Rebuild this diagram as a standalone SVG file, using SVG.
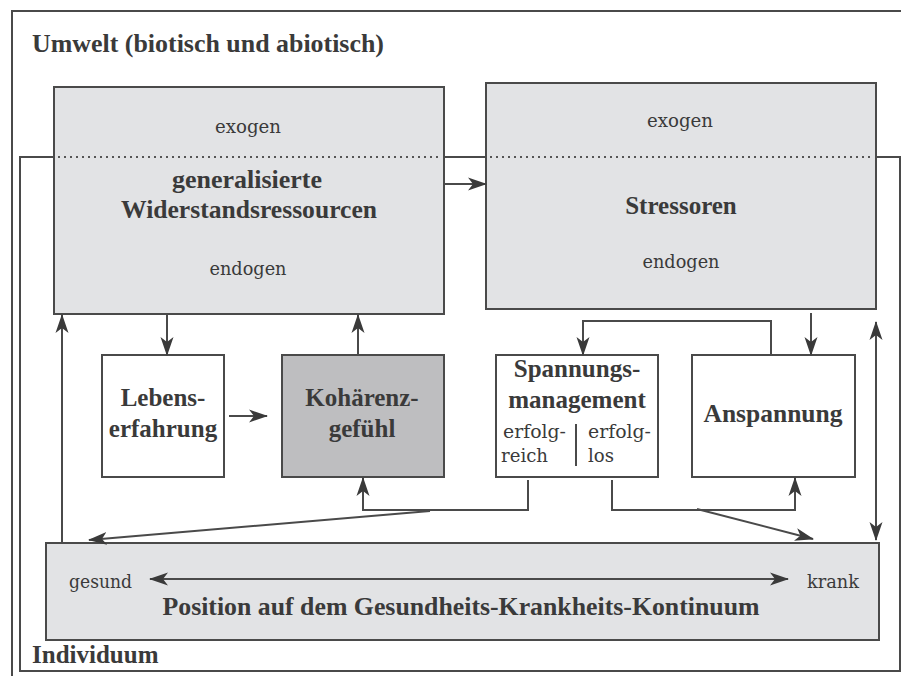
<svg xmlns="http://www.w3.org/2000/svg" width="901" height="676" viewBox="0 0 901 676">
<defs>
<marker id="ah" markerUnits="userSpaceOnUse" markerWidth="20" markerHeight="14" refX="18" refY="7" orient="auto-start-reverse" viewBox="0 0 20 14">
<path d="M0,0.5 L19,7 L0,13.5 L5,7 Z" fill="#3a3a3a"/>
</marker>
<style>
.box{stroke:#4a4a4a;stroke-width:2}
.lg{fill:#e2e3e5}
.dk{fill:#bebec0}
.wh{fill:#ffffff}
.t{font-family:"Liberation Serif","Times New Roman",serif;fill:#3a3a3a}
.b{font-weight:bold;font-size:25px}
.r{font-family:"DejaVu Serif","Liberation Serif",serif;font-size:19px;font-weight:normal}
.ln{fill:none;stroke:#4a4a4a;stroke-width:2}
.dot{fill:none;stroke:#555;stroke-width:2;stroke-dasharray:2 4}
</style>
</defs>
<rect width="901" height="676" fill="#ffffff"/>
<g id="umwelt">
<path class="ln" d="M12,676 V11 H901"/>
<text class="t b" x="32" y="52" textLength="352" lengthAdjust="spacingAndGlyphs">Umwelt (biotisch und abiotisch)</text>
</g>
<g id="individuum">
<rect class="ln" x="20" y="157" width="880" height="514"/>
<text class="t b" x="32" y="663">Individuum</text>
</g>
<g id="ressourcen">
<rect class="box lg" x="54" y="87" width="390" height="227"/>
<line class="dot" x1="58" y1="157" x2="442" y2="157"/>
<text class="t r" x="248" y="133" text-anchor="middle" textLength="66" lengthAdjust="spacingAndGlyphs">exogen</text>
<text class="t b" x="247" y="188" text-anchor="middle" textLength="150" lengthAdjust="spacingAndGlyphs">generalisierte</text>
<text class="t b" x="249" y="218" text-anchor="middle" textLength="256" lengthAdjust="spacingAndGlyphs">Widerstandsressourcen</text>
<text class="t r" x="248" y="275" text-anchor="middle" textLength="77" lengthAdjust="spacingAndGlyphs">endogen</text>
</g>
<g id="stressoren">
<rect class="box lg" x="486" y="83" width="390" height="226"/>
<line class="dot" x1="490" y1="157" x2="874" y2="157"/>
<text class="t r" x="680" y="127" text-anchor="middle" textLength="66" lengthAdjust="spacingAndGlyphs">exogen</text>
<text class="t b" x="681" y="214" text-anchor="middle">Stressoren</text>
<text class="t r" x="681" y="268" text-anchor="middle" textLength="77" lengthAdjust="spacingAndGlyphs">endogen</text>
</g>
<g id="lebenserfahrung">
<rect class="box wh" x="102" y="355" width="122" height="122"/>
<text class="t b" x="163" y="406" text-anchor="middle">Lebens-</text>
<text class="t b" x="163" y="437" text-anchor="middle">erfahrung</text>
</g>
<g id="kohaerenz">
<rect class="box dk" x="282" y="355" width="162" height="122"/>
<text class="t b" x="362" y="406" text-anchor="middle">Kohärenz-</text>
<text class="t b" x="362" y="437" text-anchor="middle">gefühl</text>
</g>
<g id="spannungsmanagement">
<rect class="box wh" x="496" y="355" width="162" height="122"/>
<text class="t b" x="577" y="377" text-anchor="middle">Spannungs-</text>
<text class="t b" x="577" y="408" text-anchor="middle">management</text>
<text class="t r" x="503" y="438" textLength="63" lengthAdjust="spacingAndGlyphs">erfolg-</text>
<text class="t r" x="501" y="462" textLength="47" lengthAdjust="spacingAndGlyphs">reich</text>
<line class="ln" x1="576" y1="424" x2="576" y2="466"/>
<text class="t r" x="588" y="438" textLength="63" lengthAdjust="spacingAndGlyphs">erfolg-</text>
<text class="t r" x="588" y="462" textLength="26" lengthAdjust="spacingAndGlyphs">los</text>
</g>
<g id="anspannung">
<rect class="box wh" x="692" y="355" width="163" height="122"/>
<text class="t b" x="773" y="422" text-anchor="middle" textLength="139" lengthAdjust="spacingAndGlyphs">Anspannung</text>
</g>
<g id="kontinuum">
<rect class="box lg" x="46" y="543" width="833" height="97"/>
<text class="t r" x="69" y="588" textLength="63" lengthAdjust="spacingAndGlyphs">gesund</text>
<text class="t r" x="807" y="588" textLength="52" lengthAdjust="spacingAndGlyphs">krank</text>
<text class="t b" x="461" y="615" text-anchor="middle" textLength="597" lengthAdjust="spacingAndGlyphs">Position auf dem Gesundheits-Krankheits-Kontinuum</text>
</g>
<g id="connectors">
<line class="ln" x1="444" y1="184" x2="486" y2="184" marker-end="url(#ah)"/>
<line class="ln" x1="167" y1="315" x2="167" y2="355" marker-end="url(#ah)"/>
<line class="ln" x1="358" y1="355" x2="358" y2="315" marker-end="url(#ah)"/>
<line class="ln" x1="229" y1="416" x2="267" y2="416" marker-end="url(#ah)"/>
<path class="ln" d="M528,480 V510 H363 V478" marker-end="url(#ah)"/>
<line class="ln" x1="430" y1="511" x2="89" y2="540" marker-end="url(#ah)"/>
<path class="ln" d="M612,480 V510 H795 V478" marker-end="url(#ah)"/>
<line class="ln" x1="697" y1="509" x2="813" y2="539" marker-end="url(#ah)"/>
<path class="ln" d="M771,355 V321 H583 V355" marker-end="url(#ah)"/>
<line class="ln" x1="811" y1="313" x2="811" y2="355" marker-end="url(#ah)"/>
<line class="ln" x1="876" y1="322" x2="876" y2="540" marker-start="url(#ah)" marker-end="url(#ah)"/>
<line class="ln" x1="62" y1="542" x2="62" y2="315" marker-end="url(#ah)"/>
<line class="ln" x1="150" y1="579" x2="788" y2="579" marker-start="url(#ah)" marker-end="url(#ah)"/>
</g>
</svg>
